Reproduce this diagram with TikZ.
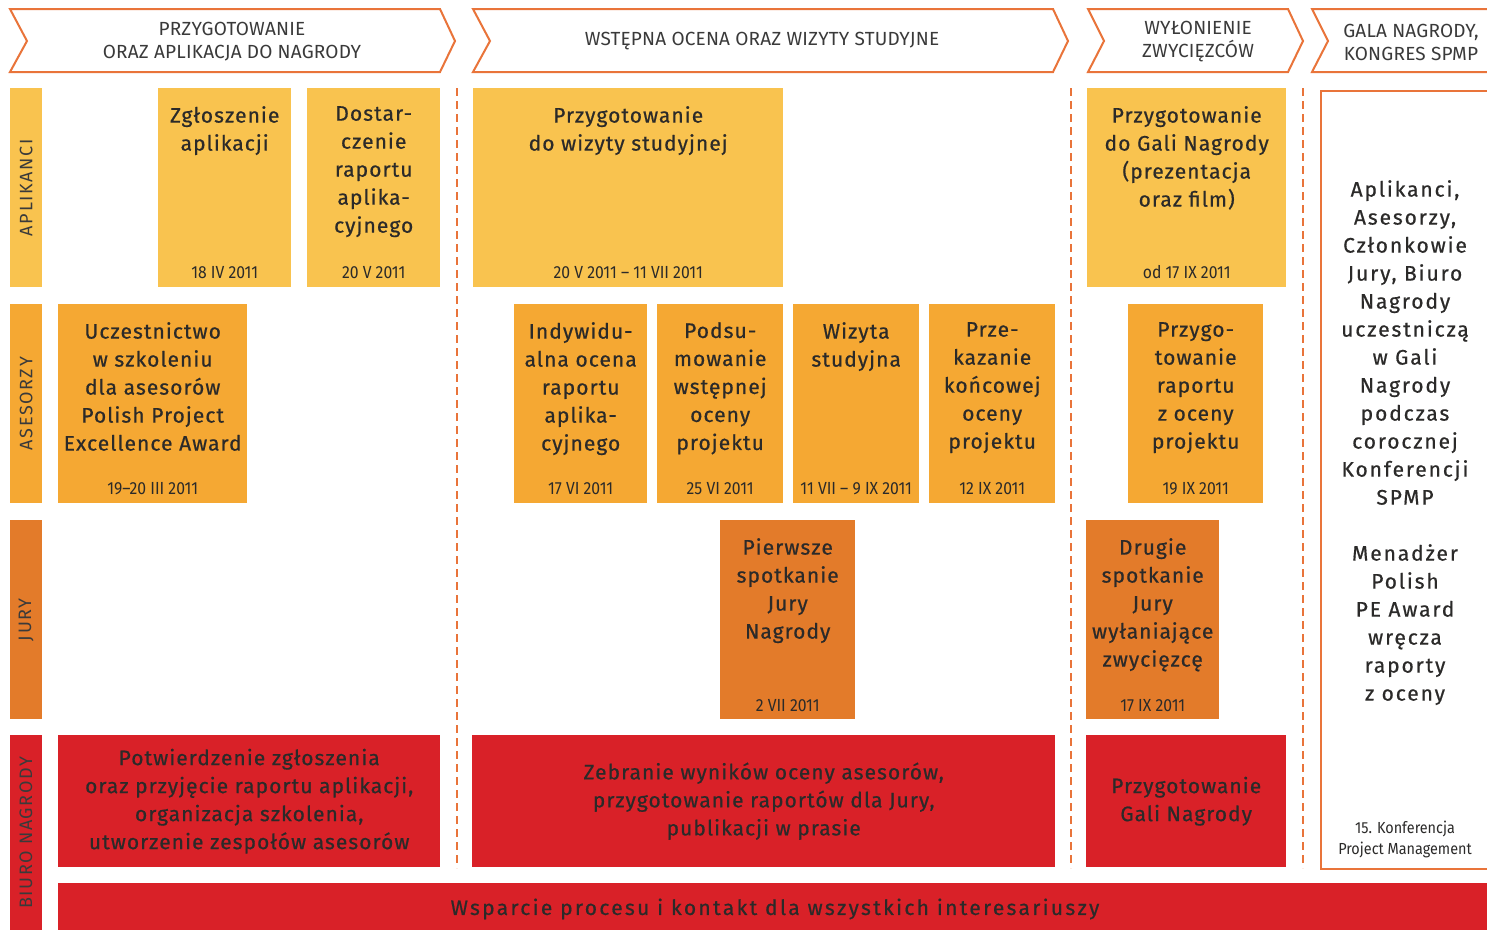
\documentclass[tikz,border=0pt]{standalone}
\usepackage{fontspec}
\setmainfont{Fira Sans}[FakeBold=0.6, LetterSpace=5]
\newfontfamily\datef[FakeStretch=0.9]{Fira Sans}
\newfontfamily\headf[LetterSpace=1]{Fira Sans}
\newfontfamily\lanef[LetterSpace=9]{Fira Sans}
\newfontfamily\spacedf[FakeBold=0.6, LetterSpace=9]{Fira Sans}
\newfontfamily\barf[FakeBold=0.6, LetterSpace=11]{Fira Sans}
\definecolor{cA}{HTML}{F9C34F}
\definecolor{cB}{HTML}{F5A833}
\definecolor{cC}{HTML}{E37B2A}
\definecolor{cD}{HTML}{D92128}
\definecolor{cLine}{HTML}{E9743A}
\definecolor{cTxt}{HTML}{2B2A29}
\definecolor{cHead}{HTML}{3A3A3A}
\tikzset{
  actbox/.style={draw=none, inner sep=0pt, anchor=north west},
  acttext/.style={inner sep=0pt, align=center, text=cTxt, font=\fontsize{21}{28}\selectfont},
  datetext/.style={inner sep=0pt, align=center, text=cTxt, font=\datef\fontsize{17.5}{20}\selectfont},
  headtext/.style={inner sep=0pt, align=center, text=cHead, font=\headf\fontsize{19}{23}\selectfont},
  lanetext/.style={inner sep=0pt, rotate=90, text=cHead, font=\lanef\fontsize{18}{20}\selectfont},
  chev/.style={draw=cLine, line width=2pt, fill=white, line join=miter},
  sep/.style={draw=cLine, line width=2pt, dash pattern=on 8pt off 5pt},
}
\newcommand{\actbox}[8]{%
  \node[actbox, fill=#6, minimum width={(#4-#2)*1pt}, minimum height={(#5-#3)*1pt}] (#1) at (#2,#3) {};
  \node[acttext, anchor=north] (#1t) at ([yshift=-18pt]#1.north) {#7};
  \node[datetext, anchor=south] (#1d) at ([yshift=8pt]#1.south) {#8};
}
\newcommand{\redbox}[6]{%
  \node[actbox, fill=cD, minimum width={(#4-#2)*1pt}, minimum height={(#5-#3)*1pt}] (#1) at (#2,#3) {};
  \node[acttext] (#1t) at (#1.center) {#6};
}
\begin{document}
\begin{tikzpicture}[x=1pt,y=-1pt]
\useasboundingbox (0,0) rectangle (1487,929);
\clip (0,0) rectangle (1487,929);
\fill[white] (0,0) rectangle (1487,929);

% header chevrons
\draw[chev] (10,9) -- (440,9) -- (455,41) -- (440,72) -- (10,72) -- (27,41) -- cycle;
\draw[chev] (473,9) -- (1053,9) -- (1068,41) -- (1053,72) -- (473,72) -- (490,41) -- cycle;
\draw[chev] (1088,9) -- (1288,9) -- (1303,41) -- (1288,72) -- (1088,72) -- (1104,41) -- cycle;
\draw[chev] (1312,9) -- (1500,9) -- (1500,72) -- (1312,72) -- (1328,41) -- cycle;
\node[headtext] (h1) at (232,42) {PRZYGOTOWANIE\\ORAZ APLIKACJA DO NAGRODY};
\node[headtext] (h2) at (762,41) {WSTĘPNA OCENA ORAZ WIZYTY STUDYJNE};
\node[headtext] (h3) at (1198,42) {WYŁONIENIE\\ZWYCIĘZCÓW};
\node[headtext] (h4) at (1411,42) {GALA NAGRODY,\\KONGRES SPMP};

% lanes
\node[actbox, fill=cA, minimum width=32pt, minimum height=199pt] (l1) at (10,88) {};
\node[actbox, fill=cB, minimum width=32pt, minimum height=199pt] (l2) at (10,304) {};
\node[actbox, fill=cC, minimum width=32pt, minimum height=199pt] (l3) at (10,520) {};
\node[actbox, fill=cD, minimum width=32pt, minimum height=220pt] (l4) at (10,735) {};
\node[lanetext] (l1t) at (l1.center) {APLIKANCI};
\node[lanetext] (l2t) at (l2.center) {ASESORZY};
\node[lanetext] (l3t) at (l3.center) {JURY};
\node[lanetext] (l4t) at (26,833) {BIURO NAGRODY};

% dashed separators
\coordinate (s1a) at (457,88); \coordinate (s1b) at (457,868);
\coordinate (s2a) at (1071,88); \coordinate (s2b) at (1071,868);
\coordinate (s3a) at (1303,88); \coordinate (s3b) at (1303,868);
\draw[sep] (s1a) -- (s1b);
\draw[sep] (s2a) -- (s2b);
\draw[sep] (s3a) -- (s3b);

% row 1
\actbox{z1}{158}{88}{291}{287}{cA}{Zgłoszenie\\aplikacji}{18 IV 2011}
\actbox{z2}{307}{88}{440}{287}{cA}{Dostar-\\czenie\\raportu\\aplika-\\cyjnego}{20 V 2011}
\actbox{z3}{473}{88}{783}{287}{cA}{Przygotowanie\\do wizyty studyjnej}{20 V 2011 – 11 VII 2011}
\actbox{z4}{1087}{88}{1286}{287}{cA}{Przygotowanie\\do Gali Nagrody\\(prezentacja\\oraz film)}{od 17 IX 2011}
% row 2
\actbox{a1}{58}{304}{247}{503}{cB}{Uczestnictwo\\w szkoleniu\\dla asesorów\\Polish Project\\Excellence Award}{19–20 III 2011}
\actbox{a2}{514}{304}{647}{503}{cB}{Indywidu-\\alna ocena\\raportu\\aplika-\\cyjnego}{17 VI 2011}
\actbox{a3}{657}{304}{783}{503}{cB}{Podsu-\\mowanie\\wstępnej\\oceny\\projektu}{25 VI 2011}
\actbox{a4}{793}{304}{919}{503}{cB}{Wizyta\\studyjna}{11 VII – 9 IX 2011}
\actbox{a5}{929}{304}{1055}{503}{cB}{Prze-\\kazanie\\końcowej\\oceny\\projektu}{12 IX 2011}
\actbox{a6}{1128}{304}{1263}{503}{cB}{Przygo-\\towanie\\raportu\\z oceny\\projektu}{19 IX 2011}
% row 3
\actbox{j1}{720}{520}{855}{719}{cC}{Pierwsze\\spotkanie\\Jury\\Nagrody}{2 VII 2011}
\actbox{j2}{1086}{520}{1219}{719}{cC}{Drugie\\spotkanie\\Jury\\wyłaniające\\zwycięzcę}{17 IX 2011}
% row 4
\redbox{b1}{58}{735}{440}{867}{Potwierdzenie zgłoszenia\\oraz przyjęcie raportu aplikacji,\\organizacja szkolenia,\\utworzenie zespołów asesorów}
\redbox{b2}{472}{735}{1055}{867}{Zebranie wyników oceny asesorów,\\przygotowanie raportów dla Jury,\\publikacji w prasie}
\redbox{b3}{1086}{735}{1286}{867}{Przygotowanie\\Gali Nagrody}
% bottom bar
\node[actbox, fill=cD, minimum width=1440pt, minimum height=60pt] (bar) at (58,883) {};
\node[acttext, font=\barf\fontsize{21}{28}\selectfont] (bart) at (775,909) {Wsparcie procesu i kontakt dla wszystkich interesariuszy};

% gala box
\node[actbox, draw=cLine, line width=2pt, fill=white, minimum width=200pt, minimum height=778pt] (gala) at (1320,90) {};
\node[acttext, font=\spacedf\fontsize{21}{28}\selectfont, anchor=north] (galat) at (1405,180)
  {Aplikanci,\\Asesorzy,\\Członkowie\\Jury, Biuro\\Nagrody\\uczestniczą\\w Gali\\Nagrody\\podczas\\corocznej\\Konferencji\\SPMP\\[28pt]Menadżer\\Polish\\PE Award\\wręcza\\raporty\\z oceny};
\node[datetext, font=\datef\fontsize{16}{21}\selectfont] (galad) at (1405,839) {15. Konferencja\\Project Management};
\end{tikzpicture}
\end{document}
